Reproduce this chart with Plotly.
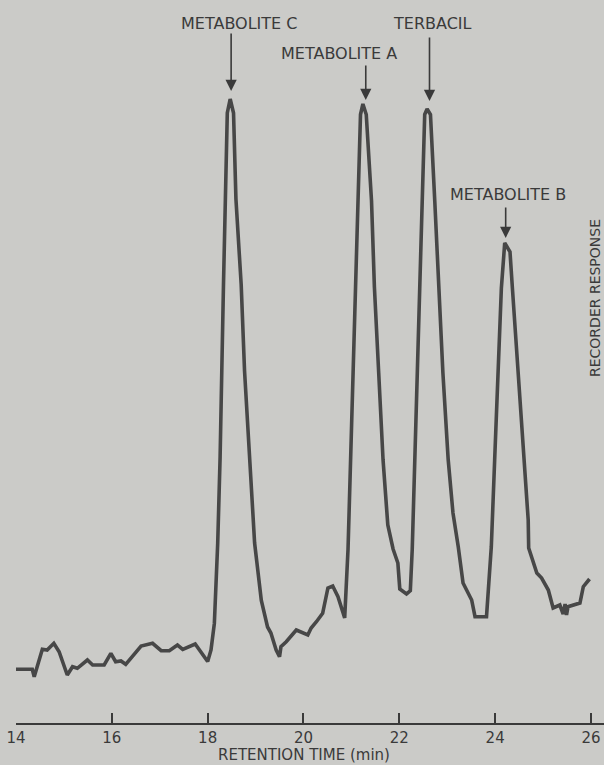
import plotly.graph_objects as go

# Chromatogram trace (retention time in min, recorder response in arbitrary units)
time_min = [14.00, 14.34, 14.38, 14.55, 14.65, 14.79, 14.90, 15.07, 15.18, 15.28,
            15.49, 15.60, 15.84, 15.98, 16.08, 16.19, 16.29, 16.61, 16.85, 17.03,
            17.20, 17.37, 17.48, 17.74, 18.00, 18.07, 18.14, 18.21, 18.26, 18.29,
            18.33, 18.37, 18.41, 18.47, 18.54, 18.59, 18.70, 18.77, 18.87, 18.98,
            19.12, 19.25, 19.32, 19.43, 19.50, 19.53, 19.64, 19.85, 20.09, 20.16,
            20.27, 20.40, 20.51, 20.61, 20.72, 20.86, 20.93, 20.98, 21.03, 21.08,
            21.14, 21.19, 21.24, 21.31, 21.42, 21.48, 21.57, 21.66, 21.76, 21.87,
            21.97, 22.01, 22.15, 22.23, 22.27, 22.32, 22.37, 22.43, 22.48, 22.53,
            22.58, 22.65, 22.74, 22.83, 22.91, 23.02, 23.12, 23.23, 23.33, 23.51,
            23.58, 23.82, 23.92, 23.99, 24.06, 24.13, 24.20, 24.31, 24.36, 24.48,
            24.59, 24.69, 24.70, 24.79, 24.87, 24.97, 25.11, 25.21, 25.35, 25.42,
            25.46, 25.49, 25.52, 25.77, 25.84, 25.97]
response = [5.07, 5.07, 4.33, 7.07, 7.0, 7.67, 6.83, 4.5, 5.33, 5.17,
            6.0, 5.5, 5.5, 6.67, 5.83, 5.9, 5.57, 7.4, 7.67, 6.93,
            6.93, 7.5, 7.07, 7.6, 5.85, 7.0, 9.66, 17.7, 26.3, 34.9,
            43.5, 52.1, 60.7, 62.1, 60.7, 52.1, 43.5, 34.9, 26.3, 17.7,
            11.95, 9.3, 8.7, 7.0, 6.33, 7.33, 7.83, 9.0, 8.5, 9.2,
            9.83, 10.67, 13.2, 13.4, 12.33, 10.2, 17.1, 26.05, 34.7, 43.3,
            51.9, 60.55, 61.6, 60.55, 51.9, 43.3, 34.7, 26.05, 19.5, 17.1,
            15.7, 13.1, 12.6, 12.94, 17.1, 26.05, 34.7, 43.3, 51.9, 60.55,
            61.1, 60.55, 51.9, 43.3, 34.7, 26.05, 20.7, 17.33, 13.7, 12.0,
            10.33, 10.33, 17.33, 26.0, 34.7, 43.2, 47.7, 46.83, 43.2, 34.7,
            26.0, 20.0, 17.2, 16.0, 14.7, 14.2, 13.0, 11.2, 11.5, 10.6,
            11.6, 10.5, 11.33, 11.7, 13.33, 14.1]

tick_vals = [14, 16, 18, 20, 22, 24, 26]
tick_text = ["14", "16", "18", "20", "22", "24", "26"]

peak_names = ["METABOLITE C", "METABOLITE A", "TERBACIL", "METABOLITE B"]
peak_times = [18.49, 21.30, 22.63, 24.22]
peak_tips = [62.9, 62.0, 61.9, 48.2]
arrow_len = [59, 36, 65, 32]
label_times = [18.66, 20.75, 22.70, 24.27]
label_resp = [69.7, 66.7, 69.7, 52.6]

ink = "#3a3a3a"
paper = "#cbcbc8"
plot_h = 723

fig = go.Figure()
fig.add_trace(go.Scatter(x=time_min, y=response, mode="lines",
                         line=dict(color="#474747", width=3.6),
                         hoverinfo="skip", showlegend=False))

annotations = []
for name, t, tip, al, lt, lr in zip(peak_names, peak_times, peak_tips, arrow_len,
                                    label_times, label_resp):
    annotations.append(dict(x=t, y=tip, xref="x", yref="y", text="",
                            showarrow=True, ax=0, ay=-al, arrowhead=2,
                            arrowsize=1.4, arrowwidth=1.6, arrowcolor=ink))
    annotations.append(dict(x=lt, y=lr, xref="x", yref="y", text=name,
                            showarrow=False, xanchor="center", yanchor="middle",
                            font=dict(family="DejaVu Sans", size=16, color=ink)))

annotations.append(dict(x=304 / 604, y=(plot_h - 755) / plot_h, xref="paper", yref="paper",
                        text="RETENTION TIME (min)", showarrow=False,
                        xanchor="center", yanchor="middle",
                        font=dict(family="DejaVu Sans", size=15, color=ink)))
annotations.append(dict(x=595 / 604, y=(plot_h - 298) / plot_h, xref="paper", yref="paper",
                        text="RECORDER RESPONSE", showarrow=False, textangle=-90,
                        xanchor="center", yanchor="middle",
                        font=dict(family="DejaVu Sans", size=14, color=ink)))

fig.update_layout(
    width=604, height=765,
    margin=dict(l=0, r=0, t=0, b=765 - plot_h, pad=0, autoexpand=False),
    paper_bgcolor=paper, plot_bgcolor=paper,
    annotations=annotations,
    xaxis=dict(domain=[16 / 604, 1], range=[14, 26.272], tickvals=tick_vals,
               ticktext=tick_text, ticks="inside", ticklen=10, tickwidth=2,
               tickcolor=ink, showline=True, linecolor=ink, linewidth=2,
               showgrid=False, zeroline=False, automargin=False,
               tickfont=dict(family="DejaVu Sans", size=15, color=ink)),
    yaxis=dict(range=[-0.3, 72], visible=False, showgrid=False, zeroline=False,
               automargin=False),
)

fig.write_html("out.html")
